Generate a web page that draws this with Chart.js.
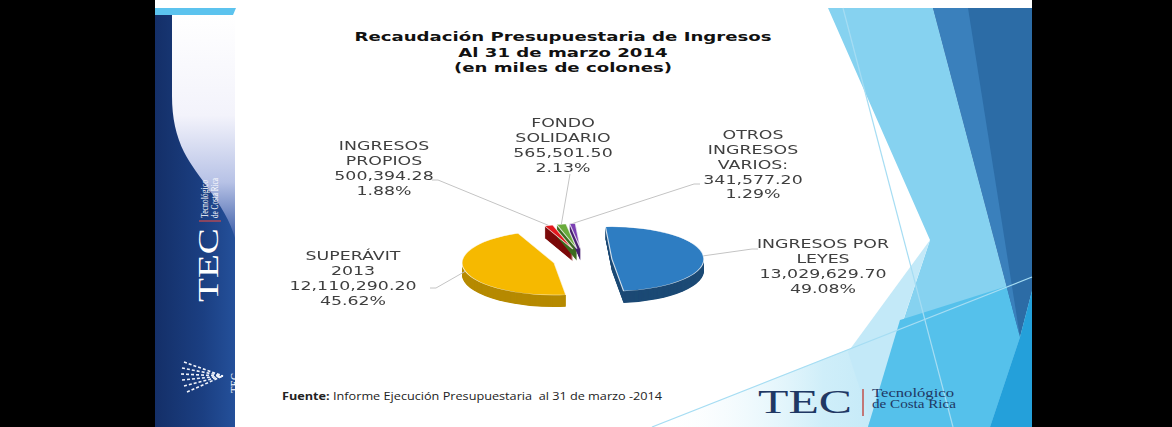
<!DOCTYPE html>
<html>
<head>
<meta charset="utf-8">
<script src="https://cdn.jsdelivr.net/npm/chart.js@4.4.0/dist/chart.umd.min.js"></script>
<style>
html, body { margin: 0; padding: 0; background: #000; }
#page { position: relative; width: 1172px; height: 427px; overflow: hidden; background: #000; }
#slide { position: absolute; left: 155px; top: 0; width: 877px; height: 427px; background: #fff; }
#deco { position: absolute; left: 0; top: 0; }
#chartjs_pie { position: absolute; left: 0; top: 0; }
#title { position: absolute; left: 263px; top: 29px; width: 600px; text-align: center;
         font-family: "DejaVu Sans"; font-weight: bold; font-size: 13px; line-height: 15.5px; color: #111; }
#title span { white-space: nowrap; }
#fuente { position: absolute; left: 282px; top: 389px; white-space: nowrap; transform-origin: left center;
          font-family: "Open Sans"; font-size: 10px; color: #222; }
</style>
</head>
<body>
<div id="page">
  <div id="slide"></div>
  <svg id="deco" width="1172" height="427">
    <defs>
      <linearGradient id="sideGrad" x1="0" y1="0" x2="1" y2="0">
        <stop offset="0" stop-color="#142f68"/>
        <stop offset="0.6" stop-color="#1b3f82"/>
        <stop offset="1" stop-color="#24509a"/>
      </linearGradient>
      <linearGradient id="glow" x1="0" y1="0" x2="0" y2="1">
        <stop offset="0" stop-color="#ffffff"/>
        <stop offset="0.45" stop-color="#f3f3fb"/>
        <stop offset="0.75" stop-color="#b7c2e6"/>
        <stop offset="1" stop-color="#3c5ea8"/>
      </linearGradient>
      <linearGradient id="paleBand" x1="0" y1="0" x2="1" y2="0">
        <stop offset="0" stop-color="#ffffff" stop-opacity="0"/>
        <stop offset="0.45" stop-color="#cfeef9"/>
        <stop offset="1" stop-color="#a8def4"/>
      </linearGradient>
    </defs>
    <!-- left sidebar -->
    <rect x="155" y="15" width="80" height="412" fill="url(#sideGrad)"/>
    <path d="M172,15 L235,15 L235,238 C226,205 196,176 184,152 C176,136 172,118 172,96 Z" fill="url(#glow)"/>
    <polygon points="155,8 236,8 233,15 155,15" fill="#5cc3ee"/>
    <g transform="translate(218,302) rotate(-90)" fill="#fff" font-family="Liberation Serif">
      <text x="0" y="0" font-size="30" textLength="74" lengthAdjust="spacingAndGlyphs">TEC</text>
      <text x="84" y="-10" font-size="10.5" textLength="38" lengthAdjust="spacingAndGlyphs">Tecnológico</text>
      <text x="84" y="0" font-size="10.5" textLength="40" lengthAdjust="spacingAndGlyphs">de Costa Rica</text>
    </g>
    <line x1="199" y1="221" x2="221" y2="221" stroke="#d04a4a" stroke-width="1.2"/>
    <g stroke="#f2f5fc" stroke-width="1.6" stroke-dasharray="3 2">
      <line x1="184" y1="362" x2="223" y2="376"/>
      <line x1="182" y1="368" x2="223" y2="376"/>
      <line x1="181" y1="374" x2="223" y2="376"/>
      <line x1="182" y1="380" x2="223" y2="376"/>
      <line x1="184" y1="386" x2="223" y2="376"/>
      <line x1="187" y1="392" x2="223" y2="376"/>
    </g>
    <text transform="translate(239,393) rotate(-90)" font-family="Liberation Serif" font-size="12" fill="#fff" textLength="20" lengthAdjust="spacingAndGlyphs">TEC</text>
    <!-- right facets -->
    <polygon points="652,427 1032,277 1032,427" fill="url(#paleBand)"/>
    <polygon points="828,8 933,8 1020,337 990,427 868,427 930,240" fill="#86d2f0"/>
    <polygon points="930,240 870,420 848,352" fill="#c3e9f8"/>
    <polygon points="900,320 1020,282 1020,337 990,427 868,427" fill="#55c1eb"/>
    <polygon points="933,8 1032,8 1032,291 1020,337" fill="#2c6ca6"/>
    <polygon points="933,8 968,8 1020,337" fill="#3a80bc"/>
    <polygon points="1020,337 1032,291 1032,427 990,427" fill="#24a0da"/>
    <line x1="843" y1="8" x2="953" y2="427" stroke="#a6ddf3" stroke-width="1.2"/>
    <line x1="652" y1="427" x2="1032" y2="277" stroke="#a6ddf3" stroke-width="1.2"/>
    <!-- footer logo -->
    <text x="758" y="413" font-family="Liberation Serif" font-size="33" fill="#1f3864" textLength="94" lengthAdjust="spacingAndGlyphs">TEC</text>
    <line x1="863" y1="389" x2="863" y2="416" stroke="#c0504d" stroke-width="1.5"/>
    <text x="872" y="397" font-family="Liberation Serif" font-size="12" fill="#1f3864" textLength="82" lengthAdjust="spacingAndGlyphs">Tecnológico</text>
    <text x="872" y="408" font-family="Liberation Serif" font-size="12" fill="#1f3864" textLength="84" lengthAdjust="spacingAndGlyphs">de Costa Rica</text>
  </svg>
  <div id="title">
    <span id="t1">Recaudación Presupuestaria de Ingresos</span><br>
    <span>Al 31 de marzo 2014</span><br>
    <span>(en miles de colones)</span>
  </div>
  <div id="fuente"><b>Fuente:</b> Informe Ejecución Presupuestaria&nbsp; al 31 de marzo -2014</div>
  <canvas id="chartjs_pie" width="1172" height="427"></canvas>
</div>
<script>
// data, clockwise from the top
const categories = [
    ['INGRESOS POR', 'LEYES'],
    ['SUPERÁVIT', '2013'],
    ['INGRESOS', 'PROPIOS'],
    ['FONDO', 'SOLIDARIO'],
    ['OTROS', 'INGRESOS', 'VARIOS:']
];
const amounts = [13029629.70, 12110290.20, 500394.28, 565501.50, 341577.20];

const topColors = ['#2e7dc2', '#f6b900', '#e3171c', '#6aab3c', '#7b3fb3'];
const sideColors = ['#1c4a75', '#b68a00', '#7c0c0c', '#3f6d22', '#4a2472'];

// stretch the html text like the slide does
function fitWidth(el, measure, w) {
    const sx = w / measure.getBoundingClientRect().width;
    el.style.transform = 'scaleX(' + sx + ')';
}
fitWidth(document.getElementById('title'), document.getElementById('t1'), 417);
fitWidth(document.getElementById('fuente'), document.getElementById('fuente'), 380);

const total = amounts.reduce((a, b) => a + b, 0);
const fmt = v => v.toLocaleString('en-US', { minimumFractionDigits: 2, maximumFractionDigits: 2 });

const pie3d = {
    id: 'pie3d',
    afterDatasetUpdate(chart, args, opts) {
        const meta = chart.getDatasetMeta(args.index);
        meta.data.forEach((arc, i) => {
            const mid = (arc.startAngle + arc.endAngle) / 2;
            const d = opts.explode[i] || 0;
            arc.x += Math.cos(mid) * d;
            arc.y += Math.sin(mid) * d;
            // slices at the back look smaller in the tilted view
            arc.outerRadius *= opts.depthScale[i] || 1;
        });
    },
    beforeDatasetsDraw(chart, args, opts) {
        const { ctx, chartArea } = chart;
        const cx = (chartArea.left + chartArea.right) / 2;
        const cy = (chartArea.top + chartArea.bottom) / 2;
        const k = opts.tilt;
        ctx.save();
        ctx.translate(cx, cy);
        ctx.scale(1, k);
        ctx.translate(-cx, -cy);
        const meta = chart.getDatasetMeta(0);
        meta.data.forEach((arc, i) => {
            ctx.fillStyle = opts.sideColors[i];
            for (let d = opts.depth; d >= 0.5; d -= 0.5) {
                ctx.beginPath();
                ctx.moveTo(arc.x, arc.y + d / k);
                ctx.arc(arc.x, arc.y + d / k, arc.outerRadius, arc.startAngle, arc.endAngle);
                ctx.closePath();
                ctx.fill();
            }
        });
    },
    afterDatasetsDraw(chart, args, opts) {
        const { ctx, chartArea } = chart;
        ctx.restore();
        const cy = (chartArea.top + chartArea.bottom) / 2;
        const k = opts.tilt;
        const meta = chart.getDatasetMeta(0);
        const values = chart.data.datasets[0].data;

        ctx.save();
        ctx.font = '12px "DejaVu Sans"';
        const sx = opts.numberWidth / ctx.measureText(fmt(amounts[0])).width;

        meta.data.forEach((arc, i) => {
            const lab = opts.labels[i];
            const mid = (arc.startAngle + arc.endAngle) / 2;
            const px = arc.x + Math.cos(mid) * arc.outerRadius;
            const py = cy + (arc.y + Math.sin(mid) * arc.outerRadius - cy) * k;

            // leader line
            ctx.strokeStyle = '#c4c4c4';
            ctx.lineWidth = 1;
            ctx.beginPath();
            ctx.moveTo(lab.anchor[0], lab.anchor[1]);
            ctx.lineTo(lab.anchor[0] + lab.tail, lab.anchor[1]);
            ctx.lineTo(px, py);
            ctx.stroke();

            // text
            const lines = [].concat(chart.data.labels[i], fmt(values[i]), (values[i] / total * 100).toFixed(2) + '%');
            ctx.fillStyle = '#3f3f3f';
            ctx.textAlign = 'center';
            ctx.textBaseline = 'middle';
            lines.forEach((t, j) => {
                ctx.save();
                ctx.translate(lab.pos[0], lab.pos[1] + j * opts.lineHeight);
                ctx.scale(sx, 1);
                ctx.fillText(t, 0, 0);
                ctx.restore();
            });
        });
        ctx.restore();
    }
};

const ctx = document.getElementById('chartjs_pie');

new Chart(ctx, {
    type: 'pie',
    data: {
        labels: categories,
        datasets: [{
            data: amounts,
            backgroundColor: topColors,
            borderColor: 'rgba(255,255,255,0.8)',
            borderWidth: 1.2
        }]
    },
    plugins: [pie3d],
    options: {
        responsive: false,
        animation: false,
        events: [],
        rotation: -4,
        radius: 92,
        layout: {
            padding: { left: 0, right: 4, top: 93, bottom: 0 }
        },
        plugins: {
            legend: { display: false },
            tooltip: { enabled: false },
            pie3d: {
                tilt: 0.35,
                depth: 12,
                explode: [28, 31, 33, 33, 33],
                depthScale: [1, 1, 0.78, 0.78, 0.78],
                sideColors: sideColors,
                numberWidth: 127,
                lineHeight: 14.8,
                labels: [
                    { pos: [823, 245], anchor: [758, 249], tail: -6 },
                    { pos: [353, 257], anchor: [430, 288], tail: 6 },
                    { pos: [384, 147], anchor: [432, 180], tail: 6 },
                    { pos: [563, 124], anchor: [570, 174], tail: 0 },
                    { pos: [753, 136], anchor: [700, 184], tail: -6 }
                ]
            }
        }
    }
});
</script>
</body>
</html>
